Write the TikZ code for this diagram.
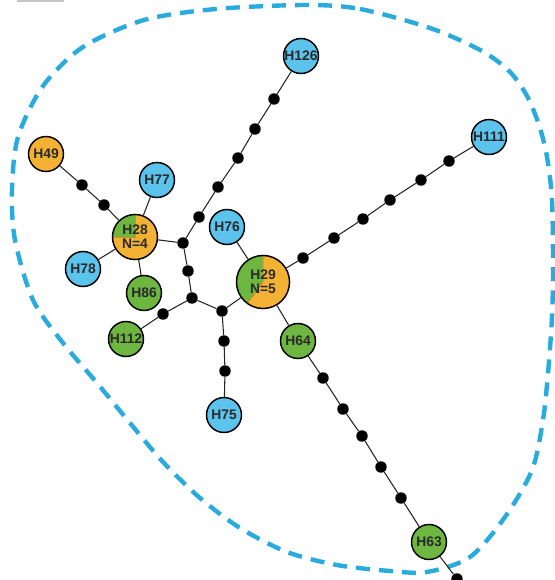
\documentclass[tikz,border=0pt]{standalone}
\usepackage{fontspec}
\setmainfont{Liberation Sans}
\definecolor{hblue}{HTML}{5BC3EC}
\definecolor{hgreen}{HTML}{6DB640}
\definecolor{horange}{HTML}{F4B234}
\definecolor{hedge}{HTML}{D98A2B}
\definecolor{hdash}{HTML}{29ABDE}
\definecolor{htext}{HTML}{2A2A2A}
\tikzset{
  hap/.style={circle, draw=black, line width=1.1pt, inner sep=0pt, minimum size=26.25pt,
    font=\bfseries\fontsize{10.4}{10.6}\selectfont, text=htext, align=center},
  bluehap/.style={hap, fill=hblue},
  greenhap/.style={hap, fill=hgreen},
  orangehap/.style={hap, fill=horange},
  mv/.style={circle, fill=black, draw=none, inner sep=0pt, minimum size=8.6pt},
  link/.style={draw=black!85, line width=0.8pt},
  region/.style={draw=hdash, line width=3.3pt, dash pattern=on 10.5pt off 6.8pt},
}
\begin{document}
\begin{tikzpicture}[x=0.75pt,y=-0.75pt]
\useasboundingbox (0,0) rectangle (555,580);
\clip (0,0) rectangle (555,580);
\fill[gray!45] (17,0) rectangle (64,1.6);

% region outline
\draw[region] plot[smooth cycle] coordinates {
 (306,5) (360,9) (430,28) (482,51) (510,72) (527,96) (539,125) (547,157) (552,200)
 (553,267) (552,317) (548,373) (543,420) (532,470) (505,517) (470,557)
 (427,572) (390,571) (337,565) (287,552) (240,528) (200,498) (163,462)
 (130,423) (97,383) (63,343) (33,300) (15,240) (12,190) (18,137)
 (43,86) (83,47) (144,20) (216,9)};

% pie fills
\fill[horange] (135,237) circle[radius=16.9pt];
\fill[hgreen] (135,237) -- ++(90:16.9pt) arc[start angle=90, end angle=180, radius=16.9pt] -- cycle;
\draw[hedge, line width=0.7pt] (135,237) ++(90:16.9pt) -- (135,237) -- ++(180:16.9pt);
\fill[horange] (263,282) circle[radius=19.9pt];
\fill[hgreen] (263,282) -- ++(90:19.9pt) arc[start angle=90, end angle=234, radius=19.9pt] -- cycle;
\draw[hedge, line width=0.7pt] (263,282) ++(90:19.9pt) -- (263,282) -- ++(234:19.9pt);

% haplotypes
\node[hap, minimum size=33.8pt] (H28) at (135,237) {H28\\N=4};
\node[hap, minimum size=39.8pt] (H29) at (263,282) {H29\\N=5};
\node[orangehap] (H49) at (46,154) {H49};
\node[bluehap] (H77) at (157,180) {H77};
\node[bluehap] (H78) at (83,269) {H78};
\node[greenhap] (H86) at (144,293) {H86};
\node[bluehap] (H76) at (227,227) {H76};
\node[bluehap] (H126) at (301,56) {H126};
\node[bluehap] (H111) at (489,137) {H111};
\node[greenhap] (H112) at (126,339) {H112};
\node[bluehap] (H75) at (224,415) {H75};
\node[greenhap] (H64) at (298,341) {H64};
\node[greenhap] (H63) at (429,542) {H63};

% median vectors
\node[mv] (d1) at (82,185) {};
\node[mv] (d2) at (104,205) {};
\node[mv] (A) at (183,243) {};
\node[mv] (a1) at (199,217) {};
\node[mv] (a2) at (218,187) {};
\node[mv] (a3) at (238,158) {};
\node[mv] (a4) at (255,129) {};
\node[mv] (a5) at (274,99) {};
\node[mv] (b1) at (188,271) {};
\node[mv] (B) at (192,298) {};
\node[mv] (c1) at (163,314) {};
\node[mv] (C) at (222,311) {};
\node[mv] (e1) at (224,341) {};
\node[mv] (e2) at (225,371) {};
\node[mv] (f1) at (303,258) {};
\node[mv] (f2) at (334,238) {};
\node[mv] (f3) at (363,219) {};
\node[mv] (f4) at (390,200) {};
\node[mv] (f5) at (421,180) {};
\node[mv] (f6) at (449,161) {};
\node[mv] (g1) at (323,378) {};
\node[mv] (g2) at (343,409) {};
\node[mv] (g3) at (362,436) {};
\node[mv] (g4) at (381,467) {};
\node[mv] (g5) at (401,498) {};
\node[mv] (g6) at (457,579) {};

% links
\draw[link] (H49) -- (d1) -- (d2) -- (H28);
\draw[link] (H77) -- (H28);
\draw[link] (H78) -- (H28);
\draw[link] (H86) -- (H28);
\draw[link] (H28) -- (A);
\draw[link] (A) -- (a1) -- (a2) -- (a3) -- (a4) -- (a5) -- (H126);
\draw[link] (A) -- (b1) -- (B);
\draw[link] (B) -- (c1) -- (H112);
\draw[link] (B) -- (C);
\draw[link] (C) -- (e1) -- (e2) -- (H75);
\draw[link] (C) -- (H29);
\draw[link] (H76) -- (H29);
\draw[link] (H29) -- (f1) -- (f2) -- (f3) -- (f4) -- (f5) -- (f6) -- (H111);
\draw[link] (H29) -- (H64) -- (g1) -- (g2) -- (g3) -- (g4) -- (g5) -- (H63) -- (g6);
\end{tikzpicture}
\end{document}
